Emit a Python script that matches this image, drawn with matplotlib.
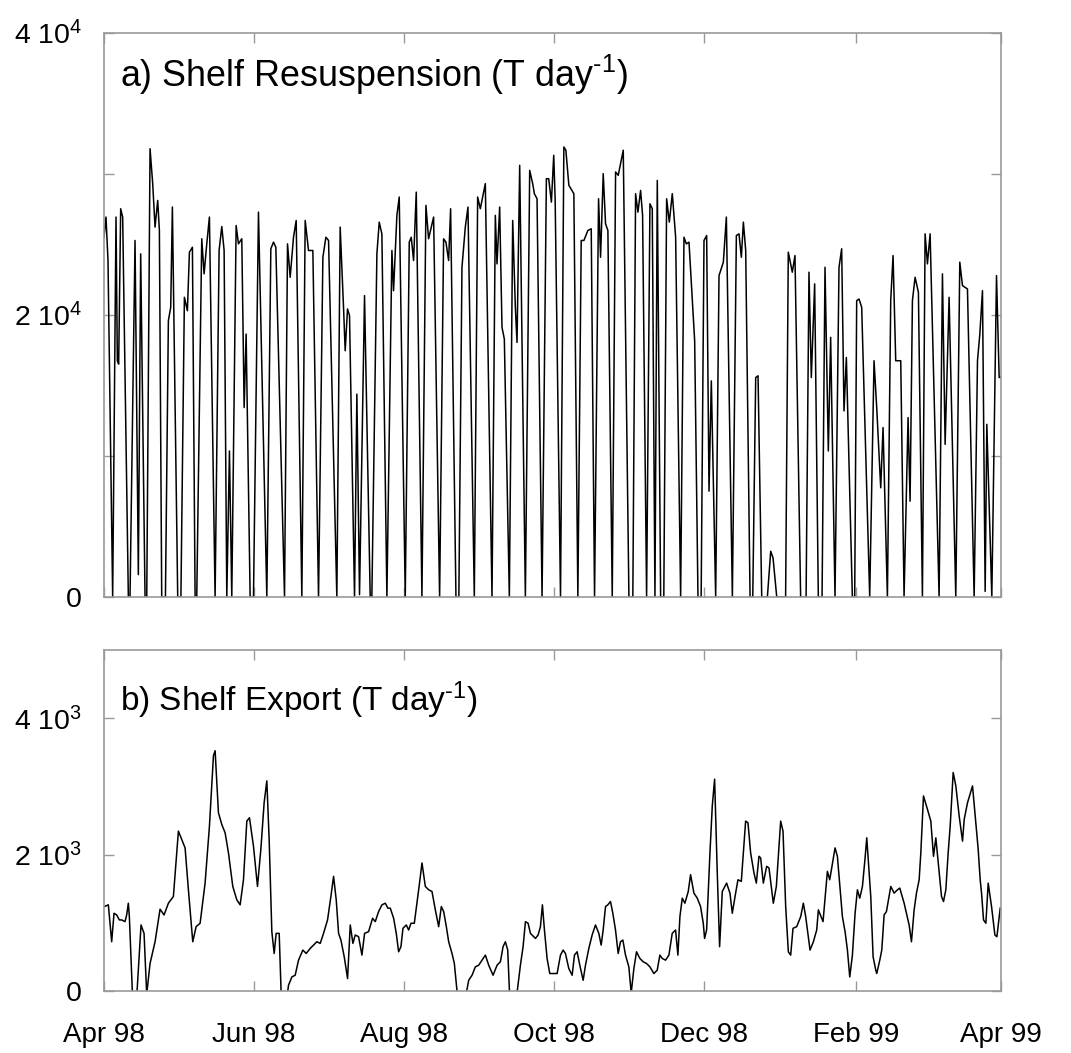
import numpy as np
import matplotlib
matplotlib.use('Agg')
import matplotlib.pyplot as plt
import matplotlib.dates as mdates
from matplotlib.ticker import FixedLocator, FixedFormatter

plt.rcParams['font.family'] = ['Liberation Sans', 'DejaVu Sans']
plt.rcParams['mathtext.default'] = 'regular'

# days since 1 Apr 1998, values in T/day
res_day = [0, 0.81, 1.63, 3.53, 4.89, 5.43, 5.97, 6.79, 7.6, 9.91, 10.59, 12.63, 13.98, 14.93,
           16.7, 17.4, 18.74, 19.82, 20.77, 21.86, 22.54, 23.49, 25.0, 26.2, 27.15, 27.83, 30.0,
           31.3, 32.72, 33.94, 34.76, 35.98, 37.07, 37.75, 39.78, 40.73, 41.82, 42.9, 45.21,
           46.84, 47.93, 48.88, 49.97, 51.05, 52.0, 53.77, 54.72, 56.07, 57.03, 57.84, 59.47,
           60.83, 62.86, 66.26, 67.89, 68.97, 69.93, 73.46, 74.68, 75.76, 77.12, 78.21, 80.51,
           81.87, 83.23, 84.99, 87.3, 89.07, 90.29, 91.38,
           94.75, 96.11, 97.47, 98.15, 99.1, 99.91, 101.95, 102.9, 103.98, 106.02, 108.33, 109.0,
           111.05, 112.0, 113.08, 115.12, 117.16, 117.83, 119.19, 120.14, 122.59, 124.22, 125.03,
           125.98, 127.07, 129.38, 131.0, 132.09, 134.13, 136.57, 138.2, 139.15, 140.24, 141.05,
           143.22, 144.4, 145.67, 147.03, 148.11, 150.69, 152.05, 153.14, 155.17, 157.89, 159.25,
           159.93, 161.01, 161.96, 162.91, 164.95, 166.31, 167.39, 168.07, 169.16, 171.47, 173.23,
           174.45, 175.13, 176.22, 178.26, 180.02, 180.97, 182.06, 183.01,
           183.6, 185.77, 187.13, 187.95, 189.17, 191.2, 192.83, 194.19, 195.28, 196.91, 198.27,
           199.62, 201.25, 202.07, 203.15, 204.1, 205.05, 206.82, 208.18, 209.26, 211.3, 213.61,
           215.2, 216.32, 217.27, 218.36, 219.17, 220.8, 222.16, 223.11, 224.2, 225.15, 226.51,
           227.8, 228.95, 230.04, 231.26, 232.62, 234.65, 236.01, 236.96, 238.05, 240.36, 241.71,
           243.0, 244.16, 245.24, 246.2, 247.14, 248.91, 250.27, 252.03, 253.26, 255.7, 257.33,
           258.41, 259.36, 260.18, 261.13, 262.9, 264.0, 265.2, 266.15, 267.65, 269.95, 271.31,
           272.26, 273.76,
           277.37, 278.46, 280.09, 281.18, 283.48, 285.7, 286.88, 287.83, 289.19, 290.68, 292.2,
           293.4, 294.75, 295.7, 297.47, 299.1, 300.18, 301.13, 302.09, 304.53, 305.48, 306.29,
           307.24, 308.33, 311.59, 313.35, 314.44, 316.07, 317.02, 318.79, 320.14, 321.09, 322.18,
           324.22, 325.57, 327.2, 328.02, 328.97, 330.06, 331.41, 333.04, 334.13, 335.08, 336.17,
           339.83, 341.19, 342.28, 343.9, 346.62, 348.25, 349.34, 351.37, 354.09, 355.45, 356.4,
           357.48, 358.57, 359.25, 361.28, 363.19, 364.27, 365.0]
res_val = [25500, 26950, 23870, 0, 26950, 16760, 16520, 27540, 26950, 0, 0, 25290, 1590, 24340,
           0, 0, 31800, 29320, 26240, 28130, 26000, 0, 0, 19600, 20550, 27660, 0,
           0, 21260, 20310, 24460, 24810, 0, 0, 25410, 22920, 25050, 26950, 0,
           24580, 26280, 24580, 0, 10360, 0, 26350, 25050, 25410, 13440, 18650, 0,
           0, 27300, 0, 24700, 25170, 24810, 0, 25050, 22680, 25520, 26710, 0,
           26710, 24580, 24580, 0, 24100, 25520, 25290,
           0, 26240, 20550, 17470, 20430, 19960, 0, 14390, 170, 21380, 0, 0,
           24340, 26590, 25760, 0, 24580, 21730, 27070, 28370, 0, 25170, 25520,
           23870, 28720, 0, 27780, 25410, 26950, 0, 25410, 25170, 23870, 27540,
           0, 0, 23390, 26240, 27660, 0, 28370, 27540, 29320, 0, 27070,
           23630, 27660, 19130, 18300, 0, 26710, 20550, 18060, 30620, 0, 30260,
           29320, 28610, 28250, 0, 29670, 29670, 28010, 31330,
           28130, 0, 31920, 31690, 29200, 28610, 0, 25290, 25290, 26000, 26120,
           0, 28250, 24100, 30030, 26470, 26000, 0, 30150, 29910, 31690, 0,
           0, 28610, 27300, 28840, 27070, 0, 27890, 27540, 0, 29550, 0,
           0, 28250, 26590, 28610, 25520, 0, 25520, 25050, 25170, 18180, 0,
           0, 25290, 25640, 7510, 15330, 0, 22800, 23750, 26950, 0, 25640,
           25760, 24100, 26590, 24580, 0, 0, 15570, 15690, 0, 0, 3250,
           2770, 0,
           0, 24460, 23040, 24220, 0, 0, 23040, 15570, 22210, 0, 0,
           23390, 10360, 18420, 0, 23390, 24700, 13200, 16990, 0, 0, 21020,
           21140, 20550, 0, 16760, 13440, 7750, 12020, 0, 21020, 24220, 16760,
           16760, 0, 12730, 6800, 21020, 22680, 21610, 0, 25760, 23630, 25760,
           0, 22920, 10830, 21260, 0, 23750, 22090, 21850, 0, 16760, 18650,
           21730, 400, 12250, 0, 22800, 15570, 15600]

exp_day = [0.14, 1.77, 3.13, 4.08, 5.16, 6.25, 7.2, 8.56, 9.23, 9.91, 10.32, 12.3, 15.07, 16.3,
           17.38, 18.74, 20.78, 22.81, 24.44, 26.21, 28.24, 30.28, 31.64, 33.0, 34.35, 36.12,
           37.48, 39.11, 41.14, 42.91, 44.54, 45.22, 46.57, 47.93, 49.29, 50.65, 52.41, 54.04,
           55.4, 56.76, 58.12, 59.2, 60.83, 62.46, 63.82, 65.17, 66.26, 67.21, 68.3, 69.25,
           70.06, 71.29, 72.6, 75.09, 76.45, 77.8, 79.16, 80.92, 82.28, 83.91, 85.27, 86.63,
           87.99, 89.34, 90.97, 92.33, 93.42, 94.5, 95.46, 96.41, 97.76, 99.12, 100.21, 101.29,
           102.24, 103.6, 104.96, 106.04, 107.67, 109.3, 110.39, 111.75, 113.1, 114.46, 115.55,
           116.5, 117.86, 118.94, 119.89, 120.84, 121.66, 123.02, 123.97, 124.92, 126.28, 127.36,
           128.31, 129.4, 130.76, 132.11, 133.47, 134.83, 136.19, 137.27, 138.22, 139.31, 140.26,
           141.62, 142.57, 145.0, 148.41, 149.77, 151.12, 152.48, 153.84, 155.2, 156.55, 158.32,
           159.95, 161.31, 162.39, 163.34, 164.29, 165.8, 169.45, 170.54, 171.49, 172.58, 173.53,
           175.56, 176.65, 177.6, 178.41, 179.23, 180.31, 181.4, 182.76, 184.39, 185.75, 186.83,
           187.78, 189.14, 190.5, 191.45, 192.53, 193.62, 194.98, 195.93, 197.29, 198.64, 200.0,
           201.36, 202.31, 203.13, 204.08, 205.03, 206.11, 207.06, 208.15, 209.24, 210.18, 211.14,
           212.22, 213.58, 214.53, 215.62, 216.7, 218.06, 219.42, 220.78, 222.14, 223.77, 225.12,
           226.21, 227.16, 228.52, 229.88, 231.23, 232.59, 233.54, 234.36, 235.31, 236.39, 237.75,
           238.7, 240.06, 241.42, 242.77, 243.86, 244.4, 245.22, 246.58, 247.53, 248.48, 249.56,
           250.51, 251.6, 253.36, 254.72, 255.67, 257.03, 257.98, 259.34, 261.1, 262.05, 263.14,
           264.5, 265.45, 266.53, 267.21, 268.3, 269.66, 270.61, 272.37, 273.6, 275.36, 276.31,
           277.4, 278.48, 279.43, 280.38, 281.88, 283.51, 284.59, 285.54, 287.31, 288.67, 290.02,
           290.7, 292.6, 294.37, 295.32, 296.68, 297.49, 298.44, 300.48, 301.57, 302.52, 303.47,
           304.55, 305.64, 306.59, 307.54, 308.63, 309.71, 310.39, 312.02, 312.97, 314.06, 314.46,
           315.69, 316.5, 317.45, 318.4, 320.17, 321.53, 322.88, 323.83, 325.6, 327.63, 328.58,
           329.67, 330.62, 331.71, 332.39, 333.47, 335.1, 336.46, 337.55, 338.5, 339.86, 340.81,
           341.62, 342.57, 343.52, 344.34, 345.56, 346.64, 348.0, 349.36, 350.04, 351.4, 353.43,
           354.79, 355.74, 356.55, 357.1, 357.91, 358.86, 359.81, 361.17, 362.53, 363.35, 364.7]
exp_val = [1238, 1263, 722, 1140, 1115, 1042, 1042, 1017, 1115, 1287, 1091, -700, 968, 845,
           -50, 403, 722, 1199, 1115, 1287, 1386, 2344, 2221, 2098, 1484, 722,
           943, 993, 1582, 2418, 3450, 3523, 2614, 2442, 2319, 2025, 1533, 1337,
           1263, 1631, 2491, 2541, 2123, 1533, 2074, 2762, 3081, 2221, 870, 550,
           845, 845, -600, 84, 206, 231, 452, 600, 550, 624, 673, 722,
           698, 845, 1042, 1386, 1681, 1337, 845, 747, 501, 182, 968, 698,
           821, 796, 526, 845, 870, 1066, 1017, 1165, 1263, 1287, 1214,
           1214, 1066, 845, 575, 649, 919, 968, 894, 993, 993, 1287,
           1558, 1877, 1533, 1484, 1459, 1189, 943, 1238, 1165, 943, 722,
           550, 403, -500, 157, 231, 354, 378, 452, 526, 378, 231,
           378, 428, 649, 722, 600, -700, 378, 649, 1017, 993, 845,
           771, 821, 943, 1263, 894, 477, 256, 256, 256, 526, 600,
           550, 329, 231, 526, 575, 378, 157, 378, 624, 821, 968,
           845, 673, 894, 1238, 1263, 1312, 1140, 894, 550, 722, 747,
           526, 354, -30, 329, 575, 477, 428, 403, 354, 256, 305,
           526, 477, 452, 526, 845, 894, 526, 1091, 1361, 1287, 1459,
           1705, 1435, 1361, 1238, 993, 771, 894, 2025, 2713, 3106, 1730,
           649, 1459, 1582, 1435, 1140, 1435, 1631, 1607, 2491, 2467, 2025,
           1730, 1582, 1975, 1951, 1582, 1828, 1803, 1287, 1533, 2491, 2344,
           1238, 575, 526, 919, 943, 1091, 1287, 1091, 600, 722, 894,
           1189, 1017, 1754, 1631, 1926, 2098, 1975, 1091, 870, 600, 206,
           526, 1140, 1484, 1361, 1533, 1951, 2246, 1386, 501, 305, 256,
           452, 600, 1115, 1165, 1533, 1435, 1484, 1509, 1287, 968, 722,
           1189, 1435, 1631, 2025, 2860, 2663, 2491, 1975, 2246, 1730, 1386,
           1312, 1484, 2025, 2418, 3204, 3007, 2565, 2197, 2516, 2762, 3007,
           2467, 2074, 1631, 1435, 1042, 993, 1582, 1238, 821, 796, 1214]

res_ticks = [0, 10000, 20000, 30000, 40000]
res_labels = ['0', '', '2 10$^4$', '', '4 10$^4$']
exp_ticks = [0, 2000, 4000]
exp_labels = ['0', '2 10$^3$', '4 10$^3$']

start = np.datetime64('1998-04-01T00:00')


def to_dates(days):
    secs = np.round(np.asarray(days, dtype=float) * 86400).astype(np.int64)
    return start + secs.astype('timedelta64[s]')


fig = plt.figure(figsize=(10.71, 10.53), dpi=100)
ax1 = fig.add_axes([0.0971, 0.4330, 0.8375, 0.5356])
ax2 = fig.add_axes([0.0971, 0.0589, 0.8375, 0.3238])

ax1.plot(to_dates(res_day), res_val, color='black', lw=1.1)
ax2.plot(to_dates(exp_day), exp_val, color='black', lw=1.1)

ax1.set_ylim(0, 40000)
ax2.set_ylim(0, 5000)

for ax, ticks, labels in [(ax1, res_ticks, res_labels), (ax2, exp_ticks, exp_labels)]:
    ax.set_xlim(np.datetime64('1998-04-01'), np.datetime64('1999-04-01'))
    ax.xaxis.set_major_locator(mdates.MonthLocator(bymonth=[2, 4, 6, 8, 10, 12]))
    ax.xaxis.set_major_formatter(mdates.DateFormatter('%b %y'))
    ax.yaxis.set_major_locator(FixedLocator(ticks))
    ax.yaxis.set_major_formatter(FixedFormatter(labels))
    for s in ax.spines.values():
        s.set_color('#999999')
        s.set_linewidth(1.2)
    ax.tick_params(direction='in', top=True, right=True, length=7, width=1.0,
                   color='#999999', labelsize=20)
    ax.tick_params(axis='x', pad=22)
    ax.tick_params(axis='y', pad=16, labelsize=20.5)

ax1.tick_params(axis='x', labelbottom=False)

ax1.text(0.018, 0.925, 'a) Shelf Resuspension (T day$^{\u2010 1}$)', transform=ax1.transAxes,
         fontsize=25.8, va='center', ha='left')
ax2.text(0.018, 0.853, 'b) Shelf Export (T day$^{\u2010 1}$)', transform=ax2.transAxes,
         fontsize=24, va='center', ha='left')

fig.savefig('out.png', dpi=100)
